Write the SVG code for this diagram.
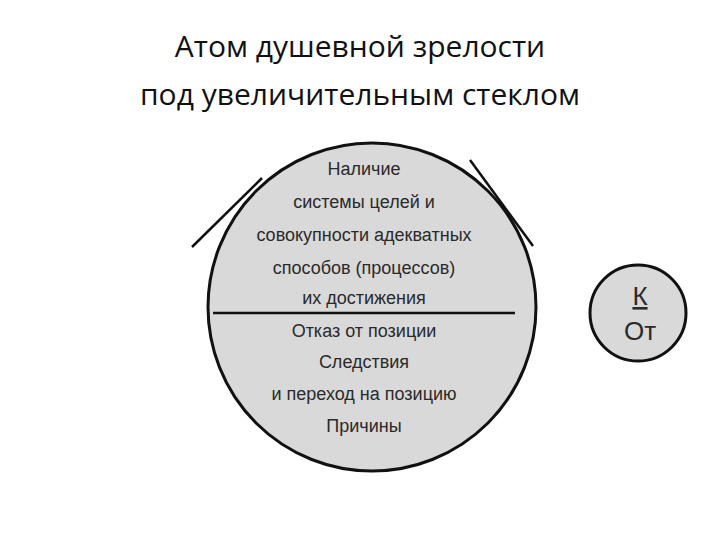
<svg xmlns="http://www.w3.org/2000/svg" width="720" height="540" viewBox="0 0 720 540">
<style>
.t{font-family:"Liberation Sans",Arial,sans-serif;font-size:18px;fill:#2a2a2a;text-anchor:middle}
.h{font-family:"Open Sans","Liberation Sans",sans-serif;font-size:30px;fill:#111;text-anchor:middle}
.c{fill:#d9d9d9;stroke:#111;stroke-width:3}
</style>
<rect width="720" height="540" fill="#fff"/>
<text class="h" x="360" y="57">Атом душевной зрелости</text>
<text class="h" x="360" y="105">под увеличительным стеклом</text>
<g id="connectors" stroke="#111" stroke-width="2.5" fill="none">
<line x1="192" y1="247" x2="262" y2="178"/>
<line x1="533" y1="246" x2="470" y2="160"/>
</g>
<g id="big">
<circle class="c" cx="372" cy="307" r="164"/>
<line x1="213" y1="313" x2="515" y2="313" stroke="#111" stroke-width="2.5"/>
<text class="t" x="364" y="175">Наличие</text>
<text class="t" x="364" y="208">системы целей и</text>
<text class="t" x="364" y="241">совокупности адекватных</text>
<text class="t" x="364" y="274">способов (процессов)</text>
<text class="t" x="364" y="304">их достижения</text>
<text class="t" x="364" y="337">Отказ от позиции</text>
<text class="t" x="364" y="368">Следствия</text>
<text class="t" x="364" y="400">и переход на позицию</text>
<text class="t" x="364" y="432">Причины</text>
</g>
<g id="small">
<circle class="c" cx="638" cy="313" r="48"/>
<text class="t" x="640" y="305" style="font-size:26px;text-decoration:underline">К</text>
<text class="t" x="640" y="340" style="font-size:26px">От</text>
</g>
</svg>
